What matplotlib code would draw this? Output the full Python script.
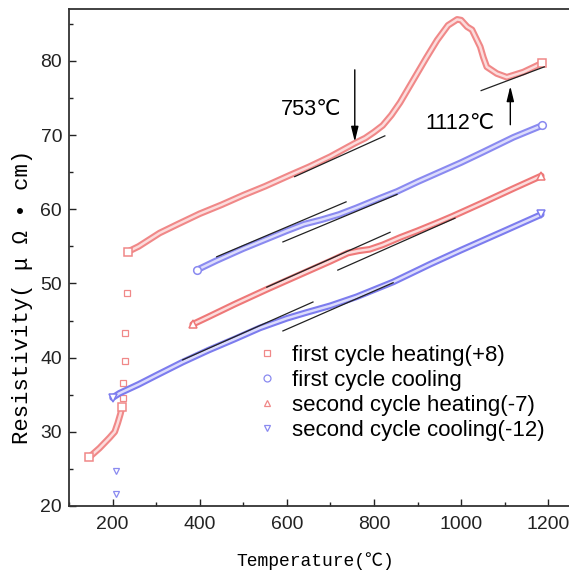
"""Resistivity vs temperature for two heating/cooling cycles.

Saves out.png.
Run:  python plot.py
"""
import matplotlib

matplotlib.use("Agg")
import matplotlib.pyplot as plt
from matplotlib import font_manager
from matplotlib.lines import Line2D
from matplotlib.ticker import MultipleLocator

# first cycle heating (+8): dense low part, sparse jump, dense main part
h1_low_T = [147, 170, 193, 205, 212, 218, 222]
h1_low_R = [26.6, 27.8, 29.2, 30.0, 31.2, 32.4, 33.4]
h1_jump_T = [223, 225, 228, 229, 232]
h1_jump_R = [34.6, 36.6, 39.5, 43.3, 48.7]
h1_T = [236, 260, 308, 350, 400, 450, 500, 550, 607, 650, 700, 756, 780, 800, 820, 840, 860,
        890, 920, 945, 970, 991, 1000, 1014, 1025, 1044, 1051, 1059, 1082, 1105, 1143, 1186]
h1_R = [54.3, 55.0, 56.8, 58.0, 59.4, 60.6, 61.9, 63.1, 64.6, 65.7, 67.1, 68.9, 69.6, 70.4, 71.3, 72.7, 74.4,
        77.4, 80.4, 82.8, 84.8, 85.6, 85.5, 84.6, 84.2, 81.9, 80.5, 79.2, 78.3, 77.8, 78.5, 79.7]

# first cycle cooling
c1_T = [393, 439, 500, 550, 600, 640, 680, 720, 760, 814, 853, 900, 950, 1000, 1050, 1120, 1186]
c1_R = [51.8, 53.1, 54.7, 55.9, 57.1, 58.0, 58.6, 59.3, 60.2, 61.5, 62.4, 63.7, 65.0, 66.3, 67.7, 69.7, 71.3]

# second cycle heating (-7)
h2_T = [384, 420, 480, 554, 600, 650, 700, 740, 765, 790, 820, 860, 900, 950, 982, 1050, 1120, 1184]
h2_R = [44.5, 45.5, 47.2, 49.2, 50.4, 51.7, 53.0, 54.1, 54.4, 54.6, 55.2, 56.2, 57.1, 58.3, 59.1, 60.9, 62.8, 64.5]

# second cycle cooling (-12)
c2_T = [200, 216, 260, 300, 361, 420, 480, 538, 600, 646, 700, 760, 844, 929, 1000, 1100, 1184]
c2_R = [34.6, 35.2, 36.4, 37.6, 39.4, 41.0, 42.5, 44.0, 45.3, 46.1, 47.0, 48.2, 50.2, 52.6, 54.5, 57.1, 59.3]
c2_out_T = [207, 207]
c2_out_R = [24.7, 21.6]

# straight-line fits (start, end)
fit_lines = [
    ([618, 825], [64.4, 69.9]),
    ([1046, 1191], [76.0, 79.2]),
    ([439, 736], [53.6, 61.0]),
    ([591, 853], [55.6, 62.0]),
    ([554, 837], [49.5, 56.9]),
    ([717, 986], [51.8, 58.8]),
    ([361, 660], [39.7, 47.5]),
    ([591, 844], [43.6, 50.1]),
]

labels = ["first cycle heating(+8)", "first cycle cooling",
          "second cycle heating(-7)", "second cycle cooling(-12)"]

RED, RED_IN = "#f08888", "#fcdcdc"
BLUE, BLUE_IN = "#8a8af0", "#dcdcfc"

names = {f.name for f in font_manager.fontManager.ttflist}
narrow = "Liberation Sans Narrow" if "Liberation Sans Narrow" in names else "Liberation Sans"
scale = 1.0 if narrow == "Liberation Sans Narrow" else 0.82
mono = ["Liberation Mono", "DejaVu Sans Mono", "Noto Sans CJK SC"]
sans = [narrow, "DejaVu Sans", "Noto Sans CJK SC"]
plt.rcParams["font.family"] = sans


def band(ax, T, R, c, cin, marker):
    ax.plot(T, R, color=c, lw=4.8, solid_capstyle="round", solid_joinstyle="round", zorder=2)
    ax.plot(T, R, color=cin, lw=1.8, solid_capstyle="round", solid_joinstyle="round", zorder=2)
    ax.plot([T[0], T[-1]], [R[0], R[-1]], ls="none", marker=marker, ms=5.5,
            mfc="white", mec=c, mew=1.1, zorder=3)


fig = plt.figure(figsize=(5.69, 5.73), dpi=100)
ax = fig.add_axes([69 / 569, 67 / 573, 501 / 569, 497 / 573])

band(ax, h1_low_T, h1_low_R, RED, RED_IN, "s")
ax.plot(h1_jump_T, h1_jump_R, ls="none", marker="s", ms=4.5, mfc="none", mec=RED, mew=0.9)
band(ax, h1_T, h1_R, RED, RED_IN, "s")
band(ax, c1_T, c1_R, BLUE, BLUE_IN, "o")
band(ax, h2_T, h2_R, "#ee7878", RED_IN, "^")
band(ax, c2_T, c2_R, "#7c7cee", BLUE_IN, "v")
ax.plot(c2_out_T, c2_out_R, ls="none", marker="v", ms=5, mfc="none", mec=BLUE, mew=0.9)

for xs, ys in fit_lines:
    ax.plot(xs, ys, color="#222222", lw=0.9, zorder=4)

arrow = dict(arrowstyle="-|>,head_length=0.9,head_width=0.22", color="black", lw=1.0,
             shrinkA=0, shrinkB=0, mutation_scale=10)
ax.annotate("", xy=(756, 69.1), xytext=(756, 78.8), arrowprops=arrow)
ax.annotate("", xy=(1113, 76.6), xytext=(1113, 71.4), arrowprops=arrow)
ax.text(586, 72.7, "753℃", fontsize=19 * scale, family=sans, va="baseline", ha="left")
ax.text(917, 70.8, "1112℃", fontsize=19 * scale, family=sans, va="baseline", ha="left")

ax.set_xlim(100, 1250)
ax.set_ylim(20, 87)
ax.xaxis.set_major_locator(MultipleLocator(200))
ax.xaxis.set_minor_locator(MultipleLocator(100))
ax.yaxis.set_major_locator(MultipleLocator(10))
ax.yaxis.set_minor_locator(MultipleLocator(5))
ax.tick_params(which="both", direction="in", width=1.0, labelsize=17 * scale, colors="#222222")
ax.tick_params(which="major", length=5)
ax.tick_params(which="minor", length=3)
ax.tick_params(axis="x", pad=7)
ax.tick_params(axis="y", pad=5)
ax.spines["right"].set_visible(False)
for s in ("left", "bottom", "top"):
    ax.spines[s].set_linewidth(1.3)
    ax.spines[s].set_color("#333333")

ax.set_xlabel("Temperature(℃)", family=mono, fontsize=13, va="center")
ax.xaxis.set_label_coords((315 - 69) / 501, -(561 - 506) / 497)
ax.set_ylabel("Resistivity( μ Ω • cm)", family=mono, fontsize=16, va="center")
ax.yaxis.set_label_coords(-(69 - 22) / 501, (506 - 297) / 497)

handles = [
    Line2D([], [], ls="none", marker="s", ms=5, mfc="none", mec=RED, mew=0.9),
    Line2D([], [], ls="none", marker="o", ms=5, mfc="none", mec=BLUE, mew=0.9),
    Line2D([], [], ls="none", marker="^", ms=5, mfc="none", mec=RED, mew=0.9),
    Line2D([], [], ls="none", marker="v", ms=5, mfc="none", mec=BLUE, mew=0.9),
]
ax.legend(handles, labels, loc="upper left", bbox_to_anchor=(255.5 / 569, 1 - 345 / 573),
          bbox_transform=fig.transFigure, frameon=False, fontsize=19.5 * scale,
          handlelength=1.0, handletextpad=0.65, labelspacing=0.18, borderpad=0, borderaxespad=0)

fig.savefig("out.png", dpi=100)
